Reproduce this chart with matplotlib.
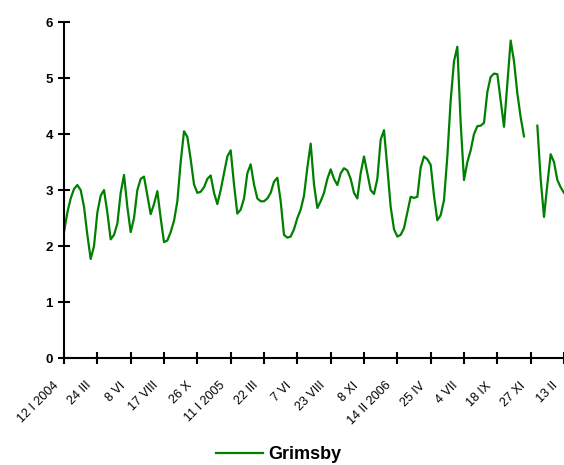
import numpy as np
import matplotlib
matplotlib.use('Agg')
import matplotlib.pyplot as plt

plt.rcParams['font.family'] = ['Liberation Sans', 'DejaVu Sans']

# etykiety osi x (co 10 tygodni)
tick_labels = ['12 I 2004', '24 III', '8 VI', '17 VIII', '26 X', '11 I 2005',
               '22 III', '7 VI', '23 VIII', '8 XI', '14 II 2006', '25 IV',
               '4 VII', '18 IX', '27 XI', '13 II']

# ceny tygodniowe - Grimsby, nan = brak notowan
grimsby = [2.25, 2.6, 2.85, 3.02, 3.09, 3.0, 2.7, 2.2, 1.77, 2.0,
           2.6, 2.9, 3.0, 2.6, 2.12, 2.2, 2.4, 2.95, 3.27, 2.7,
           2.25, 2.5, 3.0, 3.2, 3.24, 2.9, 2.57, 2.75, 2.98, 2.5,
           2.07, 2.1, 2.25, 2.45, 2.8, 3.5, 4.05, 3.95, 3.55, 3.1,
           2.95, 2.97, 3.05, 3.2, 3.26, 2.95, 2.75, 3.0, 3.3, 3.6,
           3.71, 3.1, 2.58, 2.65, 2.85, 3.3, 3.46, 3.1, 2.85, 2.8,
           2.8, 2.85, 2.95, 3.15, 3.22, 2.8, 2.2, 2.15, 2.17, 2.3,
           2.5, 2.65, 2.9, 3.4, 3.83, 3.1, 2.68, 2.8, 2.95, 3.2,
           3.37, 3.2, 3.09, 3.3, 3.39, 3.35, 3.2, 2.95, 2.85, 3.3,
           3.6, 3.3, 3.0, 2.93, 3.2, 3.9, 4.07, 3.4, 2.7, 2.3,
           2.17, 2.2, 2.32, 2.6, 2.88, 2.86, 2.88, 3.4, 3.6, 3.55,
           3.45, 2.9, 2.46, 2.55, 2.82, 3.6, 4.6, 5.3, 5.56, 4.2,
           3.18, 3.5, 3.71, 4.0, 4.14, 4.15, 4.2, 4.75, 5.02, 5.08,
           5.07, 4.6, 4.13, 4.9, 5.67, 5.3, 4.73, 4.3, 3.96, np.nan,
           np.nan, np.nan, 4.15, 3.2, 2.52, 3.1, 3.64, 3.5, 3.18, 3.05,
           2.95]

x = np.arange(len(grimsby))
tick_pos = np.arange(0, 151, 10)

fig = plt.figure(figsize=(5.64, 4.65), dpi=100)
ax = fig.add_axes([0.1135, 0.230, 0.8865, 0.7225])

ax.plot(x, grimsby, color='#008000', linewidth=1.6, label='Grimsby',
        solid_joinstyle='round')

ax.set_xlim(0, 150)
ax.set_ylim(0, 6)
ax.set_xticks(tick_pos)
ax.set_xticklabels([])
# etykiety osi x recznie - przesuniete w lewo/dol jak w oryginale
for pos, lab in zip(tick_pos, tick_labels):
    ax.annotate(lab, xy=(pos, 0), xycoords=ax.get_xaxis_transform(),
                xytext=(-8.5, -15.5), textcoords='offset points',
                rotation=45, ha='right', va='top', rotation_mode='anchor',
                fontsize=9, annotation_clip=False)

ax.set_yticks(range(0, 7))
ax.set_yticklabels([str(v) for v in range(0, 7)], fontsize=9.5, fontweight='bold')

ax.spines['top'].set_visible(False)
ax.spines['right'].set_visible(False)
ax.spines['left'].set_linewidth(1.5)
ax.spines['bottom'].set_linewidth(1.5)
ax.tick_params(axis='both', direction='inout', length=8, width=1.5)
ax.tick_params(axis='y', pad=4)

fig.legend(loc='center', bbox_to_anchor=(0.494, 0.022), frameon=False,
           prop={'weight': 'bold', 'size': 13}, handlelength=2.6, handletextpad=0.3)

fig.savefig('out.png', dpi=100)
